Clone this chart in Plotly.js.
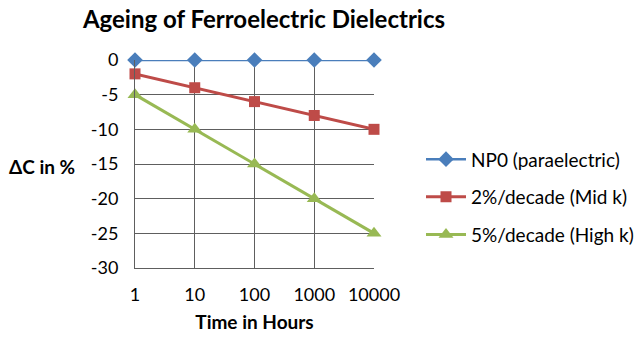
<!DOCTYPE html>
<html>
<head>
<meta charset="utf-8">
<script src="https://cdn.plot.ly/plotly-3.0.1.min.js"></script>
<style>html,body{margin:0;padding:0;background:#fff;}#chart{width:640px;height:352px;}</style>
</head>
<body>
<div id="chart"></div>
<script>
var hours = [1, 10, 100, 1000, 10000];
var hourLabels = ["1", "10", "100", "1000", "10000"];
var npo = [0, 0, 0, 0, 0];
var midK = [-2, -4, -6, -8, -10];
var highK = [-5, -10, -15, -20, -25];
var seriesNames = ["NP0 (paraelectric)", "2%/decade (Mid k)", "5%/decade (High k)"];
var yTicks = [0, -5, -10, -15, -20, -25, -30];
var yTickLabels = ["0", "-5", "-10", "-15", "-20", "-25", "-30"];

var FONT = "Lato, 'Noto Sans', sans-serif";
var GRID = "#5e5e5e";

var traces = [
  {x: hours, y: npo, name: seriesNames[0], mode: "lines+markers", legendgroup: "a",
   line: {color: "#4a7ebb", width: 2.5}, marker: {symbol: "diamond", size: 12, color: "#4a7ebb"}, cliponaxis: false},
  {x: hours, y: midK, name: seriesNames[1], mode: "lines+markers", legendgroup: "b",
   line: {color: "#be4b48", width: 3}, marker: {symbol: "square", size: 11, color: "#be4b48"}, cliponaxis: false},
  {x: hours, y: highK, name: seriesNames[2], mode: "lines+markers", legendgroup: "c",
   line: {color: "#98b954", width: 3}, marker: {symbol: "triangle-up", size: 13, color: "#98b954"}, cliponaxis: false}
];

var layout = {
  width: 640, height: 352,
  margin: {l: 135, r: 266, t: 60, b: 84, autoexpand: false},
  paper_bgcolor: "#fff", plot_bgcolor: "#fff",
  font: {family: FONT, color: "#000", size: 18},
  title: {text: "<b>Ageing of Ferroelectric Dielectrics</b>", font: {size: 24, family: FONT, color: "#000"},
          xref: "container", x: 264/640, xanchor: "center", yref: "container", y: 1 - 20/352, yanchor: "middle"},
  xaxis: {type: "log", range: [0, 4], tickvals: hours, ticktext: hourLabels, automargin: false,
          showgrid: true, gridcolor: GRID, gridwidth: 1, showline: true, linecolor: GRID, linewidth: 1,
          ticks: "", ticklabelstandoff: 10, tickfont: {size: 18},
          title: {text: "<b>Time in Hours</b>", font: {size: 19}, standoff: 12}, zeroline: false},
  yaxis: {range: [-30, 0], tickvals: yTicks, ticktext: yTickLabels, showgrid: true, gridcolor: GRID, gridwidth: 1,
          automargin: false, showline: true, linecolor: GRID, linewidth: 1, zeroline: false, ticks: "", ticklabelstandoff: 12,
          tickfont: {size: 18}},
  showlegend: true,
  legend: {x: (421-135)/239, xanchor: "left", y: 0.34, yanchor: "middle", traceorder: "grouped",
           tracegroupgap: 10, font: {size: 19}, itemwidth: 40, bgcolor: "rgba(0,0,0,0)"},
  annotations: [
    {text: "<b>ΔC in %</b>", xref: "paper", yref: "paper", x: (42-135)/239, y: (268-166)/208,
     xanchor: "center", yanchor: "middle", showarrow: false, font: {size: 19}}
  ]
};

Plotly.newPlot("chart", traces, layout, {displayModeBar: false, staticPlot: true});
</script>
</body>
</html>
